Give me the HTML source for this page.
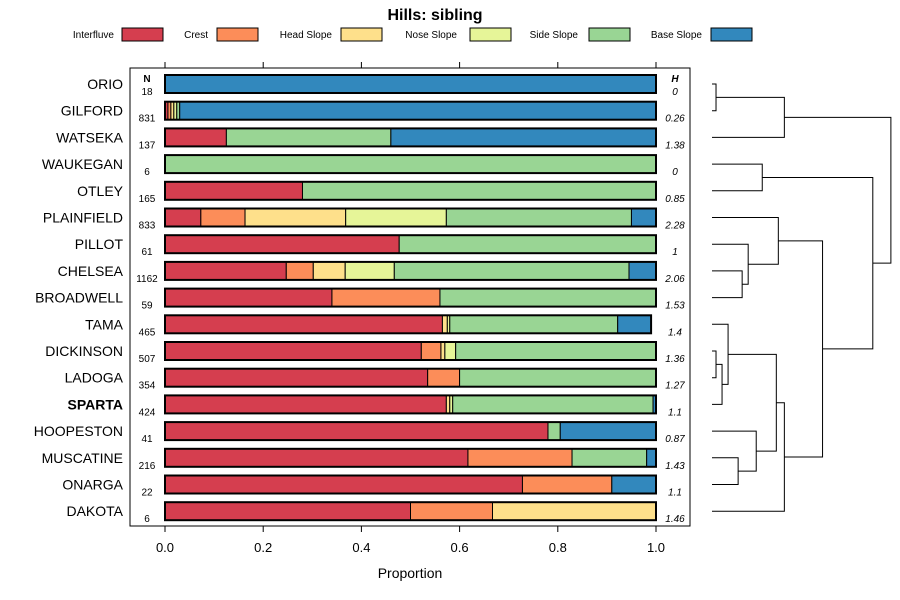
<!DOCTYPE html>
<html><head><meta charset="utf-8"><style>
body{margin:0;background:#fff}
svg{display:block;font-family:"Liberation Sans",sans-serif}
</style></head><body>
<svg id="c" width="900" height="600" viewBox="0 0 900 600">
<text x="435" y="20" text-anchor="middle" font-size="16" font-weight="bold">Hills: sibling</text>
<g id="legend"></g>
<rect x="130" y="68" width="560" height="458" fill="none" stroke="#000" stroke-width="1"/>
<g id="axis"></g>
<g id="bars"></g>
<g id="dendro"></g>
<text x="410" y="578" text-anchor="middle" font-size="14">Proportion</text>
<text x="147" y="82" text-anchor="middle" font-size="10" font-weight="bold">N</text>
<text x="675" y="82" text-anchor="middle" font-size="10" font-weight="bold" font-style="italic">H</text>
</svg>
<script>
const classes = ["Interfluve","Crest","Head Slope","Nose Slope","Side Slope","Base Slope"];
const colors = ["#D53E4F","#FC8D59","#FEE08B","#E6F598","#99D594","#3288BD"];
const series = ["ORIO","GILFORD","WATSEKA","WAUKEGAN","OTLEY","PLAINFIELD","PILLOT","CHELSEA","BROADWELL","TAMA","DICKINSON","LADOGA","SPARTA","HOOPESTON","MUSCATINE","ONARGA","DAKOTA"];
const nValues = [18,831,137,6,165,833,61,1162,59,465,507,354,424,41,216,22,6];
const hValues = ["0","0.26","1.38","0","0.85","2.28","1","2.06","1.53","1.4","1.36","1.27","1.1","0.87","1.43","1.1","1.46"];
const proportions = [
 [0,0,0,0,0,1],
 [0.006,0.006,0.006,0.006,0.006,0.97],
 [0.125,0,0,0,0.335,0.54],
 [0,0,0,0,1,0],
 [0.28,0,0,0,0.72,0],
 [0.073,0.09,0.205,0.205,0.377,0.05],
 [0.477,0,0,0,0.523,0],
 [0.247,0.055,0.065,0.1,0.478,0.055],
 [0.34,0.22,0,0,0.44,0],
 [0.565,0,0.01,0.005,0.342,0.068],
 [0.522,0.04,0.008,0.022,0.408,0],
 [0.535,0.065,0,0,0.4,0],
 [0.573,0,0.007,0.006,0.408,0.006],
 [0.78,0,0,0,0.025,0.195],
 [0.617,0.212,0,0,0.152,0.019],
 [0.728,0.182,0,0,0,0.09],
 [0.5,0.167,0.333,0,0,0]
];
const tickValues = [0,0.2,0.4,0.6,0.8,1];
const tickLabels = ["0.0","0.2","0.4","0.6","0.8","1.0"];
// dendrogram merges: [leftNode, rightNode, height]; leaves are 0..16, merges are 17+
const merges = [
 [0,1,0.02],[17,2,0.36],[3,4,0.25],[7,8,0.15],[6,20,0.18],[5,21,0.33],
 [10,11,0.02],[23,12,0.05],[9,24,0.08],[14,15,0.13],[13,26,0.22],[25,27,0.32],
 [28,16,0.36],[22,29,0.55],[19,30,0.80],[18,31,0.89]
];
const NS="http://www.w3.org/2000/svg";
function el(tag,attrs,parent,txt){const e=document.createElementNS(NS,tag);for(const k in attrs)e.setAttribute(k,attrs[k]);if(txt!==undefined)e.textContent=txt;parent.appendChild(e);return e;}
const xs=v=>165+v*491;
const ys=i=>84+i*26.7;
const legend=document.getElementById('legend');
const legX=[[114,122],[208,217],[332,341],[457,470],[578,589],[702,711]];
classes.forEach((c,i)=>{
 const t=el('text',{x:legX[i][0],y:38,'text-anchor':'end','font-size':10},legend,c);
 
 
 const r=el('rect',{x:legX[i][1],y:28,width:41,height:13,fill:colors[i],stroke:'#000','stroke-width':1},legend);
 
 
});
const axis=document.getElementById('axis');
tickValues.forEach((v,i)=>{
 el('line',{x1:xs(v),x2:xs(v),y1:526,y2:532,stroke:'#000'},axis);
 el('line',{x1:xs(v),x2:xs(v),y1:62,y2:68,stroke:'#000'},axis);
 const t=el('text',{x:xs(v),y:552,'text-anchor':'middle','font-size':13},axis,tickLabels[i]);
 
 
});
const bars=document.getElementById('bars');
series.forEach((s,i)=>{
 const y=ys(i);
 const lab=el('text',{x:123,y:y+5,'text-anchor':'end','font-size':14,'font-weight':s==='SPARTA'?'bold':'normal'},bars,s);
 
 
 const n=el('text',{x:147,y:y+11,'text-anchor':'middle','font-size':10},bars,String(nValues[i]));
 
 
 const h=el('text',{x:675,y:y+11,'text-anchor':'middle','font-size':10,'font-style':'italic'},bars,hValues[i]);
 
 
 let cum=0;
 proportions[i].forEach((p,k)=>{
  if(p<=0)return;
  const r=el('rect',{x:xs(cum),y:y-9,width:xs(cum+p)-xs(cum),height:18,fill:colors[k],stroke:'#000','stroke-width':1},bars);
  
  
  cum+=p;
 });
 const o=el('rect',{x:xs(0),y:y-9,width:xs(cum)-xs(0),height:18,fill:'none',stroke:'#000','stroke-width':2},bars);
 
 
});
const d=document.getElementById('dendro');
const hx=h=>712+h*201;
const pos={};
series.forEach((s,i)=>{pos[i]={x:712,y:ys(i)};});
merges.forEach((m,j)=>{
 const a=pos[m[0]],b=pos[m[1]],x=hx(m[2]);
 const p=el('path',{d:`M${a.x},${a.y}H${x}V${b.y}H${b.x}`,fill:'none',stroke:'#000','stroke-width':1},d);
 
 
 pos[17+j]={x:x,y:(a.y+b.y)/2};
});
</script>
</body></html>
